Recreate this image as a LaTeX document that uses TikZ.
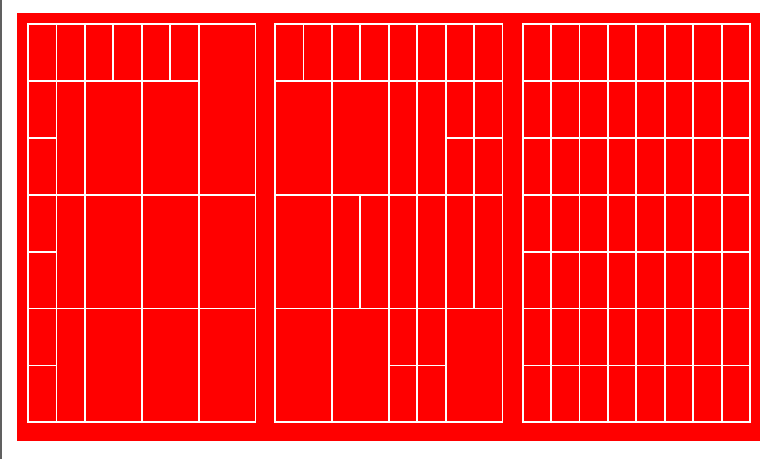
\documentclass[tikz,border=0pt]{standalone}
\usepackage{tikz}
\definecolor{bgred}{RGB}{255,0,0}
\definecolor{edgegray}{RGB}{96,96,96}
\tikzset{
  gridline/.style={draw=white, line width=1.8pt, line cap=rect},
}
\begin{document}
\begin{tikzpicture}[x=1pt,y=-1pt]
\useasboundingbox (0,0) rectangle (781,459);
\fill[white] (0,0) rectangle (781,459);
\fill[edgegray] (0,0) rectangle (1.6,459);
\fill[bgred] (17,13) rectangle (760,440.7);

% Left grid
\begin{scope}[shift={(28,24)}, x=28.44pt, y=-28.45pt]
  \draw[gridline] (0,0) rectangle (8,14);
  \draw[gridline] (0,2) -- (6,2);
  \draw[gridline] (0,4) -- (1,4);
  \draw[gridline] (0,6) -- (8,6);
  \draw[gridline] (0,8) -- (1,8);
  \draw[gridline] (0,10) -- (8,10);
  \draw[gridline] (0,12) -- (1,12);
  \draw[gridline] (1,0) -- (1,14);
  \draw[gridline] (2,0) -- (2,14);
  \draw[gridline] (3,0) -- (3,2);
  \draw[gridline] (4,0) -- (4,14);
  \draw[gridline] (5,0) -- (5,2);
  \draw[gridline] (6,0) -- (6,14);
\end{scope}

% Middle grid
\begin{scope}[shift={(275,24)}, x=28.44pt, y=-28.45pt]
  \draw[gridline] (0,0) rectangle (8,14);
  \draw[gridline] (0,2) -- (8,2);
  \draw[gridline] (6,4) -- (8,4);
  \draw[gridline] (0,6) -- (8,6);
  \draw[gridline] (0,10) -- (8,10);
  \draw[gridline] (4,12) -- (6,12);
  \draw[gridline] (1,0) -- (1,2);
  \draw[gridline] (2,0) -- (2,14);
  \draw[gridline] (3,0) -- (3,2);
  \draw[gridline] (3,6) -- (3,10);
  \draw[gridline] (4,0) -- (4,14);
  \draw[gridline] (5,0) -- (5,14);
  \draw[gridline] (6,0) -- (6,14);
  \draw[gridline] (7,0) -- (7,10);
\end{scope}

% Right grid
\begin{scope}[shift={(522.6,24)}, x=28.44pt, y=-28.45pt]
  \draw[gridline] (0,0) rectangle (8,14);
  \foreach \r in {2,4,...,12} {\draw[gridline] (0,\r) -- (8,\r);}
  \foreach \c in {1,...,7} {\draw[gridline] (\c,0) -- (\c,14);}
\end{scope}
\end{tikzpicture}
\end{document}
